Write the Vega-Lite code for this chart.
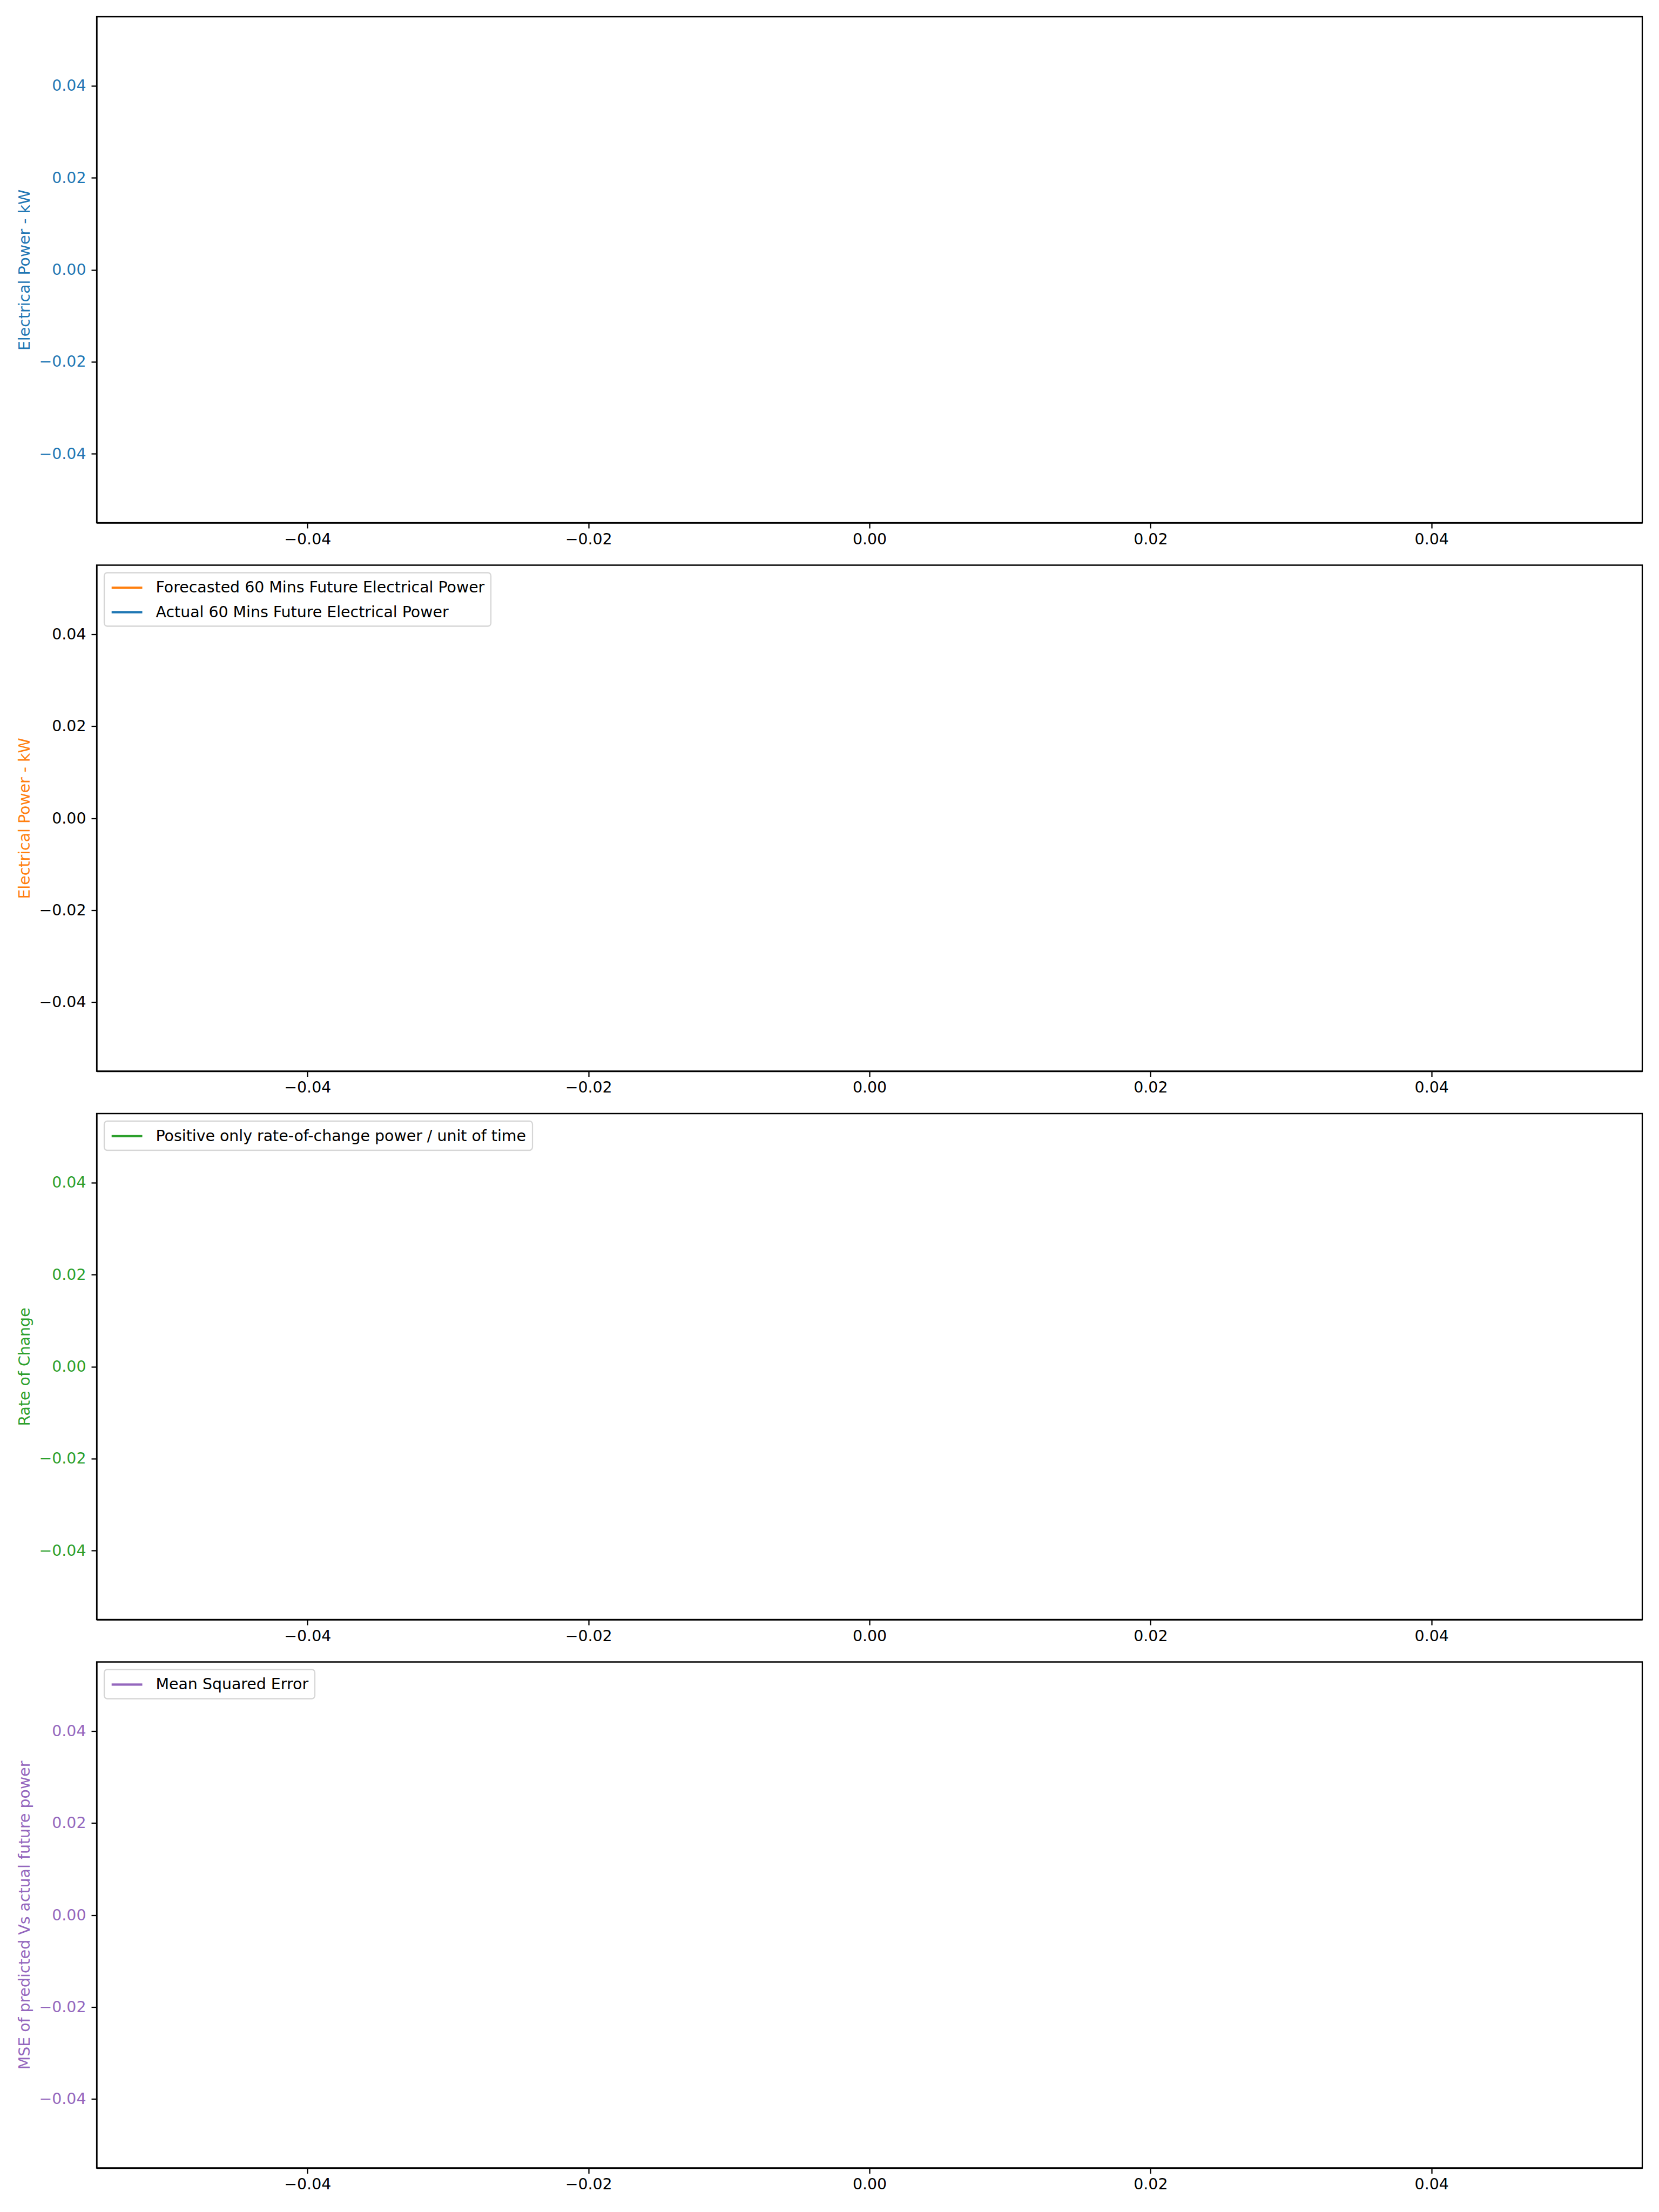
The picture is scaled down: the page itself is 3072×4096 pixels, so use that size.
{
  "$schema": "https://vega.github.io/schema/vega-lite/v6.json",
  "padding": {"left": 30, "top": 29, "right": 0, "bottom": 0},
  "background": "white",
  "spacing": 78.5,
  "bounds": "flush",
  "datasets": {
    "power": [{"series": "Electrical Power", "time": null, "kW": null}],
    "forecast": [
      {"series": "Forecasted 60 Mins Future Electrical Power", "time": null, "kW": null},
      {"series": "Actual 60 Mins Future Electrical Power", "time": null, "kW": null}
    ],
    "roc": [{"series": "Positive only rate-of-change power / unit of time", "time": null, "rate": null}],
    "mse": [{"series": "Mean Squared Error", "time": null, "mse": null}]
  },
  "config": {
    "font": "DejaVu Sans",
    "view": {"stroke": "black", "strokeWidth": 2.27},
    "axis": {
      "grid": false,
      "domainColor": "black",
      "domainWidth": 2.27,
      "tickColor": "black",
      "tickWidth": 2.27,
      "tickSize": 10,
      "labelFont": "DejaVu Sans",
      "labelFontSize": 28.4,
      "labelColor": "black",
      "titleFont": "DejaVu Sans",
      "titleFontSize": 28.4,
      "titleFontWeight": "normal"
    },
    "axisX": {"labelPadding": 7, "title": null},
    "axisY": {"labelPadding": 10, "titlePadding": 11.4},
    "legend": {
      "orient": "top-left",
      "offset": 14.2,
      "padding": 11.4,
      "strokeColor": "#d6d6d6",
      "strokeWidth": 2.27,
      "fillColor": "white",
      "cornerRadius": 5.7,
      "title": null,
      "symbolType": "M-1,0H3",
      "symbolSize": 806.6,
      "symbolStrokeWidth": 4.26,
      "labelOffset": 51.1,
      "labelFont": "DejaVu Sans",
      "labelFontSize": 28.4,
      "labelColor": "black",
      "labelLimit": 3000,
      "rowPadding": 14.2
    }
  },
  "vconcat": [
    {
      "width": 2862,
      "height": 937,
      "data": {"name": "power"},
      "mark": {"type": "line", "color": "#1f77b4", "strokeWidth": 4.26},
      "encoding": {
        "x": {"field": "time", "type": "quantitative", "scale": {"domain": [-0.055, 0.055], "nice": false, "zero": false},
              "axis": {"values": [-0.04, -0.02, 0, 0.02, 0.04], "format": ".2f"}},
        "y": {"field": "kW", "type": "quantitative", "scale": {"domain": [-0.055, 0.055], "nice": false, "zero": false},
              "axis": {"values": [-0.04, -0.02, 0, 0.02, 0.04], "format": ".2f", "title": "Electrical Power - kW", "titleColor": "#1f77b4", "labelColor": "#1f77b4"}}
      }
    },
    {
      "width": 2862,
      "height": 937,
      "data": {"name": "forecast"},
      "mark": {"type": "line", "strokeWidth": 4.26},
      "encoding": {
        "x": {"field": "time", "type": "quantitative", "scale": {"domain": [-0.055, 0.055], "nice": false, "zero": false},
              "axis": {"values": [-0.04, -0.02, 0, 0.02, 0.04], "format": ".2f"}},
        "y": {"field": "kW", "type": "quantitative", "scale": {"domain": [-0.055, 0.055], "nice": false, "zero": false},
              "axis": {"values": [-0.04, -0.02, 0, 0.02, 0.04], "format": ".2f", "title": "Electrical Power - kW", "titleColor": "#ff7f0e", "labelColor": "black"}},
        "color": {"field": "series", "type": "nominal",
                  "scale": {"domain": ["Forecasted 60 Mins Future Electrical Power", "Actual 60 Mins Future Electrical Power"], "range": ["#ff7f0e", "#1f77b4"]},
                  "legend": {}}
      }
    },
    {
      "width": 2862,
      "height": 937,
      "data": {"name": "roc"},
      "mark": {"type": "line", "strokeWidth": 4.26},
      "encoding": {
        "x": {"field": "time", "type": "quantitative", "scale": {"domain": [-0.055, 0.055], "nice": false, "zero": false},
              "axis": {"values": [-0.04, -0.02, 0, 0.02, 0.04], "format": ".2f"}},
        "y": {"field": "rate", "type": "quantitative", "scale": {"domain": [-0.055, 0.055], "nice": false, "zero": false},
              "axis": {"values": [-0.04, -0.02, 0, 0.02, 0.04], "format": ".2f", "title": "Rate of Change", "titleColor": "#2ca02c", "labelColor": "#2ca02c"}},
        "color": {"field": "series", "type": "nominal",
                  "scale": {"domain": ["Positive only rate-of-change power / unit of time"], "range": ["#2ca02c"]},
                  "legend": {}}
      }
    },
    {
      "width": 2862,
      "height": 937,
      "data": {"name": "mse"},
      "mark": {"type": "line", "strokeWidth": 4.26},
      "encoding": {
        "x": {"field": "time", "type": "quantitative", "scale": {"domain": [-0.055, 0.055], "nice": false, "zero": false},
              "axis": {"values": [-0.04, -0.02, 0, 0.02, 0.04], "format": ".2f"}},
        "y": {"field": "mse", "type": "quantitative", "scale": {"domain": [-0.055, 0.055], "nice": false, "zero": false},
              "axis": {"values": [-0.04, -0.02, 0, 0.02, 0.04], "format": ".2f", "title": "MSE of predicted Vs actual future power", "titleColor": "#9467bd", "labelColor": "#9467bd"}},
        "color": {"field": "series", "type": "nominal",
                  "scale": {"domain": ["Mean Squared Error"], "range": ["#9467bd"]},
                  "legend": {}}
      }
    }
  ],
  "resolve": {"scale": {"color": "independent"}, "legend": {"color": "independent"}}
}
